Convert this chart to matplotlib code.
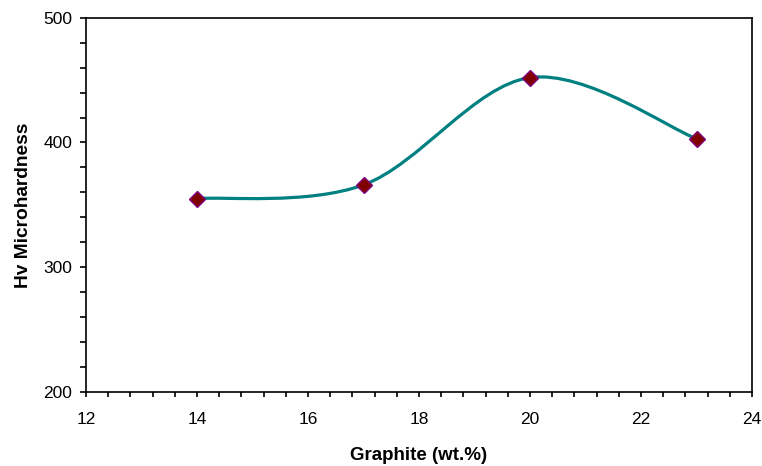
import numpy as np
import matplotlib.pyplot as plt
from matplotlib.path import Path
from matplotlib.patches import PathPatch
from matplotlib.ticker import MultipleLocator

plt.rcParams['font.family'] = ['Liberation Sans', 'DejaVu Sans']

graphite = [14, 17, 20, 23]
hardness = [355, 366, 452, 403]

# smoothed line through the points, cubic bezier segments (catmull-rom style, 1/6 tangents)
def smooth_path(xs, ys):
    pts = np.column_stack([xs, ys]).astype(float)
    n = len(pts)
    verts = [pts[0]]
    codes = [Path.MOVETO]
    for i in range(n - 1):
        p0 = pts[max(i - 1, 0)]
        p1 = pts[i]
        p2 = pts[i + 1]
        p3 = pts[min(i + 2, n - 1)]
        c1 = p1 + (p2 - p0) / 6.0
        c2 = p2 - (p3 - p1) / 6.0
        verts += [c1, c2, p2]
        codes += [Path.CURVE4] * 3
    return Path(verts, codes)

fig = plt.figure(figsize=(7.62, 4.66), dpi=100)
ax = fig.add_axes([0.1129, 0.1588, 0.8740, 0.8032])

ax.add_patch(PathPatch(smooth_path(graphite, hardness), facecolor='none',
                       edgecolor='#008080', lw=2.3, zorder=2))
ax.plot(graphite, hardness, ls='none', marker='D', ms=8.5, mfc='#800000',
        mec='#800080', mew=1.0, zorder=3)

ax.set_xlim(12, 24)
ax.set_ylim(200, 500)
ax.xaxis.set_major_locator(MultipleLocator(2))
ax.xaxis.set_minor_locator(MultipleLocator(0.4))
ax.yaxis.set_major_locator(MultipleLocator(100))
ax.yaxis.set_minor_locator(MultipleLocator(20))

ax.tick_params(axis='x', which='both', direction='out', length=3.5, width=1.2,
               pad=11, labelsize=12.5)
ax.tick_params(axis='y', which='both', direction='out', length=4, width=1.2,
               pad=6, labelsize=12.5)
for s in ax.spines.values():
    s.set_linewidth(1.2)

ax.set_xlabel('Graphite (wt.%)', fontweight='bold', fontsize=13.5, labelpad=14)
ax.set_ylabel('Hv Microhardness', fontweight='bold', fontsize=13.8, labelpad=8)

fig.savefig('out.png', dpi=100)
